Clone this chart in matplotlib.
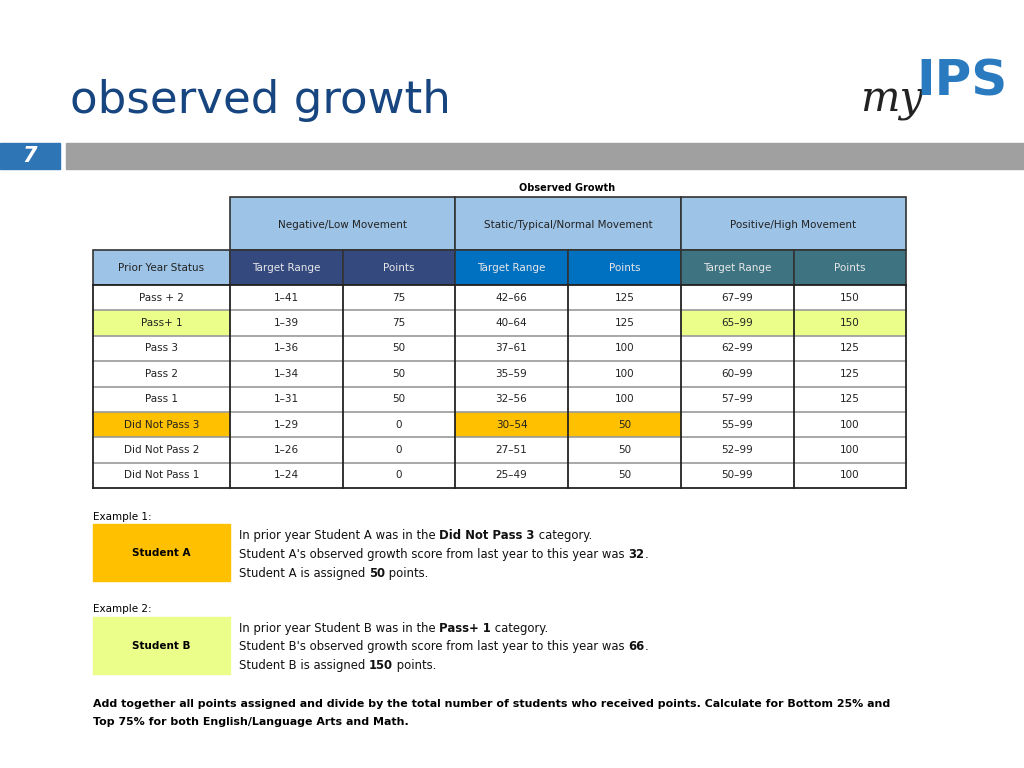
import matplotlib.pyplot as plt
from matplotlib.patches import Rectangle

plt.rcParams['font.family'] = ['DejaVu Sans']

# table data
statuses = ['Pass + 2', 'Pass+ 1', 'Pass 3', 'Pass 2', 'Pass 1',
            'Did Not Pass 3', 'Did Not Pass 2', 'Did Not Pass 1']
neg_range = ['1\u201341', '1\u201339', '1\u201336', '1\u201334', '1\u201331', '1\u201329', '1\u201326', '1\u201324']
neg_points = [75, 75, 50, 50, 50, 0, 0, 0]
static_range = ['42\u201366', '40\u201364', '37\u201361', '35\u201359', '32\u201356', '30\u201354', '27\u201351', '25\u201349']
static_points = [125, 125, 100, 100, 100, 50, 50, 50]
pos_range = ['67\u201399', '65\u201399', '62\u201399', '60\u201399', '57\u201399', '55\u201399', '52\u201399', '50\u201399']
pos_points = [150, 150, 125, 125, 125, 100, 100, 100]
groups = ['Negative/Low Movement', 'Static/Typical/Normal Movement', 'Positive/High Movement']

LIGHT = '#9dc3e6'
SUB_COLORS = ['#34497e', '#0070c0', '#3e7381']
ORANGE = '#ffc000'
YELLOW = '#ebfe8a'
TITLE_BLUE = '#17457f'

fig = plt.figure(figsize=(10.24, 7.68), dpi=100)
ax = fig.add_axes([0, 0, 1, 1])
ax.set_xlim(0, 1024)
ax.set_ylim(768, 0)
ax.axis('off')
renderer = fig.canvas.get_renderer()

# header
ax.text(70, 100, 'observed growth', fontsize=32.5, color=TITLE_BLUE, va='center', ha='left')
ax.add_patch(Rectangle((0, 143), 60, 26, color='#2e75b6'))
ax.text(30, 156, '7', fontsize=15, color='white', fontweight='bold', style='italic', ha='center', va='center')
ax.add_patch(Rectangle((66, 143), 958, 26, color='#a0a0a0'))

# logo
ax.text(860, 100, 'my', fontsize=30, style='italic', color='#222222', ha='left', va='center', family='DejaVu Serif')
ax.text(916, 81, 'IPS', fontsize=36, fontweight='bold', color='#2a7abf', ha='left', va='center')

# table geometry
xs = [93, 230, 343, 455, 568, 681, 794, 906]
row_top = 285
row_h = (488 - 285) / len(statuses)

ax.text(567, 188, 'Observed Growth', fontsize=7, fontweight='bold', ha='center', va='center')

# group header row
for g, name in enumerate(groups):
    x0, x1 = xs[1 + 2 * g], xs[3 + 2 * g]
    ax.add_patch(Rectangle((x0, 197), x1 - x0, 53, facecolor=LIGHT, edgecolor='#333333', lw=1.2))
    ax.text((x0 + x1) / 2, 225, name, fontsize=7.5, ha='center', va='center', color='#222222')

# sub header row
ax.add_patch(Rectangle((xs[0], 250), xs[1] - xs[0], 35, facecolor=LIGHT, edgecolor='#333333', lw=1.2))
ax.text((xs[0] + xs[1]) / 2, 268, 'Prior Year Status', fontsize=7.5, ha='center', va='center', color='#222222')
for c in range(6):
    x0, x1 = xs[1 + c], xs[2 + c]
    ax.add_patch(Rectangle((x0, 250), x1 - x0, 35, facecolor=SUB_COLORS[c // 2], edgecolor='#333333', lw=1.2))
    ax.text((x0 + x1) / 2, 268, ['Target Range', 'Points'][c % 2], fontsize=7.5,
            ha='center', va='center', color='#e8e8e8')

# body
highlights = {(1, 0): YELLOW, (1, 5): YELLOW, (1, 6): YELLOW,
              (5, 0): ORANGE, (5, 3): ORANGE, (5, 4): ORANGE}
for r in range(len(statuses)):
    vals = [statuses[r], neg_range[r], neg_points[r], static_range[r], static_points[r],
            pos_range[r], pos_points[r]]
    y0 = row_top + r * row_h
    for c, v in enumerate(vals):
        fc = highlights.get((r, c), 'white')
        ax.add_patch(Rectangle((xs[c], y0), xs[c + 1] - xs[c], row_h, facecolor=fc, edgecolor='none'))
        ax.text((xs[c] + xs[c + 1]) / 2, y0 + row_h / 2, str(v), fontsize=7.5,
                ha='center', va='center', color='#222222')
    if r > 0:
        ax.plot([xs[0], xs[-1]], [y0, y0], color='#9a9a9a', lw=1.2)
for x in xs:
    ax.plot([x, x], [row_top, 488], color='#222222', lw=1.3)
ax.plot([xs[0], xs[-1]], [488, 488], color='#222222', lw=1.3)
ax.plot([xs[0], xs[-1]], [row_top, row_top], color='#222222', lw=1.3)


def runs(x, y, parts, size=8.4):
    # y is the text centre; draw on a shared baseline so bold and normal runs line up
    for s, bold in parts:
        t = ax.text(x, y + 4, s, fontsize=size, fontweight='bold' if bold else 'normal',
                    ha='left', va='baseline', color='#111111')
        x += t.get_window_extent(renderer).width


# examples
ax.text(93, 517, 'Example 1:', fontsize=7.5, ha='left', va='center')
ax.add_patch(Rectangle((93, 524), 137, 57, color=ORANGE))
ax.text(161, 553, 'Student A', fontsize=7.5, fontweight='bold', ha='center', va='center')
runs(239, 535, [('In prior year Student A was in the ', False), ('Did Not Pass 3', True), (' category.', False)])
runs(239, 554, [("Student A's observed growth score from last year to this year was ", False), ('32', True), ('.', False)])
runs(239, 573, [('Student A is assigned ', False), ('50', True), (' points.', False)])

ax.text(93, 609, 'Example 2:', fontsize=7.5, ha='left', va='center')
ax.add_patch(Rectangle((93, 617), 137, 57, color=YELLOW))
ax.text(161, 646, 'Student B', fontsize=7.5, fontweight='bold', ha='center', va='center')
runs(239, 628, [('In prior year Student B was in the ', False), ('Pass+ 1', True), (' category.', False)])
runs(239, 646, [("Student B's observed growth score from last year to this year was ", False), ('66', True), ('.', False)])
runs(239, 665, [('Student B is assigned ', False), ('150', True), (' points.', False)])

ax.text(93, 704, 'Add together all points assigned and divide by the total number of students who received points. '
        'Calculate for Bottom 25% and', fontsize=7.95, fontweight='bold', ha='left', va='center')
ax.text(93, 722, 'Top 75% for both English/Language Arts and Math.', fontsize=7.95, fontweight='bold',
        ha='left', va='center')

fig.savefig('out.png', dpi=100)
